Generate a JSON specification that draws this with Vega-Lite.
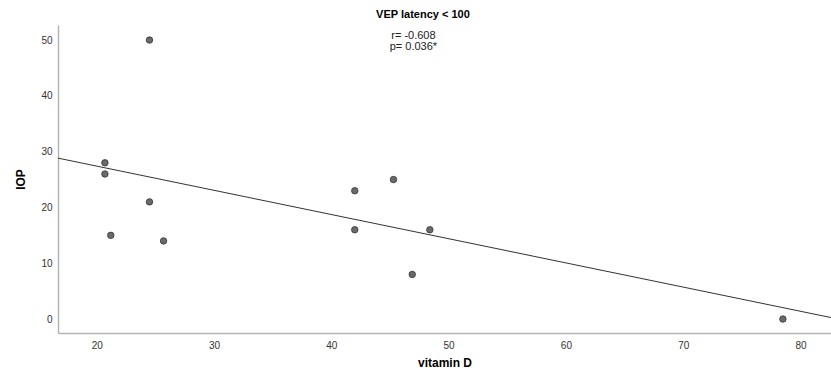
{
  "$schema": "https://vega.github.io/schema/vega-lite/v6.json",
  "width": 773,
  "height": 308,
  "autosize": {"type": "none"},
  "padding": {"left": 58, "top": 25, "right": 0, "bottom": 39},
  "background": "white",
  "config": {
    "font": "Liberation Sans",
    "view": {"stroke": null},
    "axis": {"grid": false, "ticks": false, "domainColor": "#b4b4b4", "domainWidth": 1.5, "labelColor": "#333333", "labelFontSize": 10, "titleColor": "#000000", "titleFontSize": 12, "titleFontWeight": "bold"}
  },
  "title": {"text": "VEP latency < 100", "fontSize": 11, "fontWeight": "bold", "color": "#000000", "anchor": "middle", "frame": "bounds", "offset": 5},
  "datasets": {
    "pts": [
      {"vitD": 24.5, "IOP": 50},
      {"vitD": 20.7, "IOP": 28},
      {"vitD": 20.7, "IOP": 26},
      {"vitD": 24.5, "IOP": 21},
      {"vitD": 21.2, "IOP": 15},
      {"vitD": 25.7, "IOP": 14},
      {"vitD": 42.0, "IOP": 23},
      {"vitD": 42.0, "IOP": 16},
      {"vitD": 45.3, "IOP": 25},
      {"vitD": 48.4, "IOP": 16},
      {"vitD": 46.9, "IOP": 8},
      {"vitD": 78.5, "IOP": 0}
    ],
    "notes": [
      {"vitD": 47.0, "IOP": 50.7, "label": "r= -0.608"},
      {"vitD": 47.0, "IOP": 48.7, "label": "p= 0.036*"}
    ]
  },
  "layer": [
    {
      "data": {"name": "pts"},
      "transform": [{"regression": "IOP", "on": "vitD", "extent": [16.7, 82.6]}],
      "mark": {"type": "line", "color": "#333333", "strokeWidth": 1, "clip": true},
      "encoding": {
        "x": {"field": "vitD", "type": "quantitative", "scale": {"domain": [16.7, 82.6], "nice": false, "zero": false}, "axis": {"title": "vitamin D", "values": [20, 30, 40, 50, 60, 70, 80], "labelPadding": 7, "titlePadding": 7}},
        "y": {"field": "IOP", "type": "quantitative", "scale": {"domain": [-2.5, 52.7], "nice": false, "zero": false}, "axis": {"title": "IOP", "values": [0, 10, 20, 30, 40, 50], "labelPadding": 6, "titlePadding": 13}}
      }
    },
    {
      "data": {"name": "pts"},
      "mark": {"type": "point", "filled": true, "fill": "#6a6a6a", "stroke": "#333333", "strokeWidth": 0.8, "opacity": 1, "size": 42},
      "encoding": {
        "x": {"field": "vitD", "type": "quantitative"},
        "y": {"field": "IOP", "type": "quantitative"}
      }
    },
    {
      "data": {"name": "notes"},
      "mark": {"type": "text", "fontSize": 11, "color": "#222222", "align": "center", "baseline": "middle"},
      "encoding": {
        "x": {"field": "vitD", "type": "quantitative"},
        "y": {"field": "IOP", "type": "quantitative"},
        "text": {"field": "label"}
      }
    }
  ]
}
